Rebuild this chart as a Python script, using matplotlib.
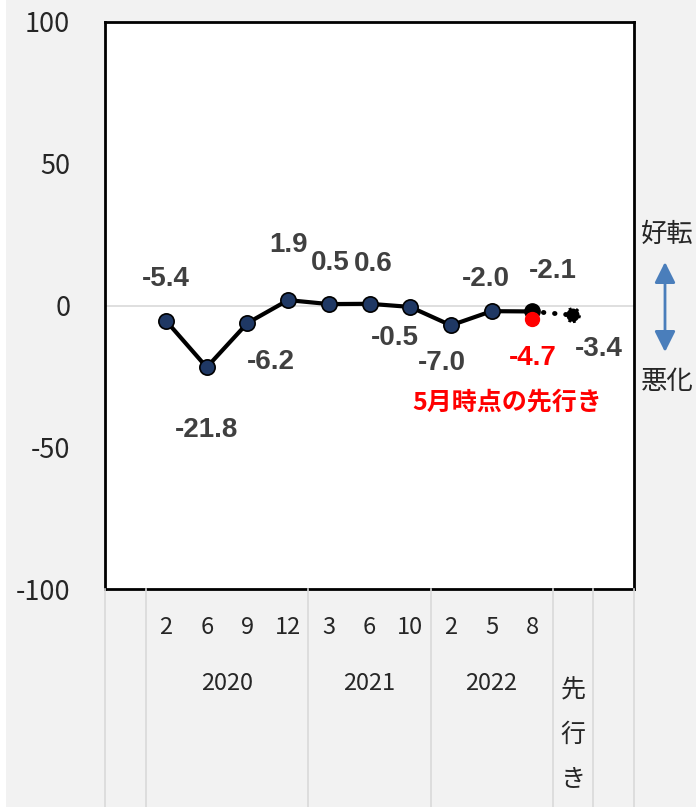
import matplotlib
matplotlib.use("Agg")
import matplotlib.pyplot as plt
from matplotlib.transforms import blended_transform_factory
from matplotlib.patches import FancyArrowPatch, Rectangle
from matplotlib.lines import Line2D

plt.rcParams['font.family'] = ['Noto Sans CJK JP', 'DejaVu Sans']

# ---- data ----
months = ['2', '6', '9', '12', '3', '6', '10', '2', '5', '8']
years = ['2020', '2021', '2022']
year_spans = [(0, 3), (4, 6), (7, 9)]          # index ranges of months in each year
values = [-5.4, -21.8, -6.2, 1.9, 0.5, 0.6, -0.5, -7.0, -2.0, -2.1]
forecast_label = '先行き'
forecast_value = -3.4
prev_forecast_value = -4.7
prev_forecast_text = '5月時点の先行き'
yticks = [-100, -50, 0, 50, 100]

# ---- styles/positions ----
W, H = 696, 807
fig = plt.figure(figsize=(W / 100, H / 100), dpi=100, facecolor='#f2f2f2')
fig.patches.append(Rectangle((0, 0), 6 / W, 1, transform=fig.transFigure,
                             facecolor='white', edgecolor='none', zorder=0))
ax = fig.add_axes([105 / W, 1 - 589 / H, 529 / W, 567 / H])
ax.set_facecolor('white')

n_slots = 13
xs = list(range(1, 1 + len(values)))   # slot 0 empty
fx = xs[-1] + 1

ax.set_xlim(-0.5, n_slots - 0.5)
ax.set_ylim(-100, 100)
ax.set_xticks([])
ax.set_yticks(yticks)
ax.set_yticklabels([str(t) for t in yticks], fontsize=19.5, color='#262626')
ax.tick_params(axis='y', length=0, pad=25)
for s in ax.spines.values():
    s.set_linewidth(2)
    s.set_color('black')

ax.axhline(0, color='#d9d9d9', lw=1.2, zorder=1)

# main line
ax.plot(xs, values, color='black', lw=3, zorder=3)
ax.plot(xs[:-1], values[:-1], 'o', ms=11, mfc='#1f3864', mec='black', mew=1.2, zorder=4)
ax.plot([xs[-1]], [values[-1]], 'o', ms=11, mfc='black', mec='black', zorder=4)
# dotted forecast
ax.plot([xs[-1], fx], [values[-1], forecast_value], color='black', lw=3.5,
        dashes=(0.1, 2.2), dash_capstyle='round', zorder=3)
ax.scatter([fx], [forecast_value], s=90, c='black', edgecolors='black',
           linestyles=':', linewidths=2, zorder=4)
# previous forecast (red)
ax.plot([xs[-1]], [prev_forecast_value], 'o', ms=10, mfc='#ff0000', mec='#ff0000', zorder=5)

# data labels: (dx, dy) in pixels from point
offsets = [(0, 42), (0, -63), (23, -39), (0, 55), (1, 41), (4, 40), (-15, -31),
           (-9, -38), (-6, 32), (21, 40)]
lab_kw = dict(family=['Liberation Sans', 'DejaVu Sans'], fontweight='bold',
              fontsize=20, ha='center', va='center', textcoords='offset pixels')
for x, v, (dx, dy) in zip(xs, values, offsets):
    ax.annotate(f'{v:.1f}', (x, v), xytext=(dx, dy), color='#404040', **lab_kw)
ax.annotate(f'{forecast_value:.1f}', (fx, forecast_value), xytext=(26, -34),
            color='#404040', **lab_kw)
ax.annotate(f'{prev_forecast_value:.1f}', (xs[-1], prev_forecast_value), xytext=(1, -39),
            color='#ff0000', **lab_kw)
ax.text(507 / W, 1 - 402 / H, prev_forecast_text, transform=fig.transFigure,
        color='#ff0000', fontsize=18, fontweight='bold', ha='center', va='center')

# category axis below
bt = blended_transform_factory(ax.transData, fig.transFigure)
for b in [-0.5, 0.5, 4.5, 7.5, 10.5, 11.5, 12.5]:
    fig.add_artist(Line2D([b, b], [0, 1 - 589 / H], transform=bt,
                          color='#d9d9d9', lw=1.2, clip_on=False))
for x, m in zip(xs, months):
    ax.text(x, 1 - 627 / H, m, transform=bt, ha='center', va='center',
            fontsize=17, color='#262626')
for yname, (a, b) in zip(years, year_spans):
    ax.text((xs[a] + xs[b]) / 2, 1 - 683 / H, yname, transform=bt, ha='center',
            va='center', fontsize=17, color='#262626')
for i, ch in enumerate(forecast_label):
    ax.text(fx, 1 - (690 + 45 * i) / H, ch, transform=bt, ha='center', va='center',
            fontsize=18, color='#262626')

# right annotations
fig.text(667 / W, 1 - 234 / H, '好転', ha='center', va='center', fontsize=19, color='#262626')
fig.text(667 / W, 1 - 381 / H, '悪化', ha='center', va='center', fontsize=19, color='#262626')
fig.add_artist(FancyArrowPatch((665 / W, 1 - 262 / H), (665 / W, 1 - 352 / H),
                               transform=fig.transFigure,
                               arrowstyle='<|-|>,head_length=0.9,head_width=0.45',
                               mutation_scale=14, color='#4a7ebb', lw=2,
                               shrinkA=0, shrinkB=0))

fig.savefig('out.png', dpi=100, facecolor=fig.get_facecolor())
